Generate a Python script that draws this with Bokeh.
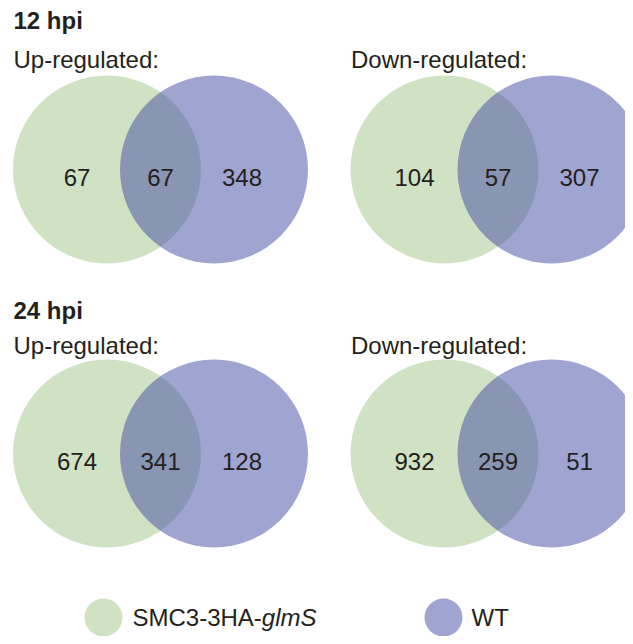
from bokeh.plotting import figure
from bokeh.models import Range1d
from bokeh.core.properties import value
from bokeh.embed import file_html
from bokeh.resources import INLINE

# ---- data ----
time_points = ["12 hpi", "24 hpi"]
directions = ["Up-regulated:", "Down-regulated:"]
# panel order: 12 hpi up, 12 hpi down, 24 hpi up, 24 hpi down
smc3_only = [67, 104, 674, 932]
shared = [67, 57, 341, 259]
wt_only = [348, 307, 128, 51]
series = ["SMC3-3HA-glmS", "WT"]
italic_part = "glmS"

# ---- style / layout ----
GREEN = "#cfe2c4"
BLUE = "#4249a3"
BLUE_ALPHA = 0.5
TXT = "#231f20"
FONT = value("Liberation Sans")
R = 94
LEFT0, COL_STEP, SEP = 106.5, 337.5, 107
ROW0, ROW_STEP = 177, 284

p = figure(width=625, height=636, output_backend="svg", toolbar_location=None,
           x_range=Range1d(0, 625), y_range=Range1d(644, 8),
           x_axis_type=None, y_axis_type=None, min_border=0)
p.outline_line_color = None
p.grid.visible = False
p.background_fill_color = "white"
p.border_fill_color = "white"

gx, bx, cy = [], [], []
for k in range(len(shared)):
    row, col = divmod(k, 2)
    g = LEFT0 + col * COL_STEP
    gx.append(g)
    bx.append(g + SEP)
    cy.append(ROW0 + row * ROW_STEP)

p.circle(x=gx, y=cy, radius=R, fill_color=GREEN, line_color=None)
p.circle(x=bx, y=cy, radius=R, fill_color=BLUE, fill_alpha=BLUE_ALPHA, line_color=None)

# counts
nx, ny, nt = [], [], []
for k in range(len(shared)):
    for xpos, v in ((gx[k] - 30, smc3_only[k]),
                    ((gx[k] + bx[k]) / 2, shared[k]),
                    (bx[k] + 28, wt_only[k])):
        nx.append(xpos); ny.append(cy[k] + 8); nt.append(str(v))
p.text(x=nx, y=ny, text=nt, text_font=FONT, text_font_size="24px",
       text_color=TXT, text_align="center", text_baseline="alphabetic")

# titles
tx, ty, tt = [], [], []
for r, t in enumerate(time_points):
    tx.append(13); ty.append(28 + r * 290); tt.append(t)
p.text(x=tx, y=ty, text=tt, text_font=FONT, text_font_size="24px",
       text_font_style="bold", text_color=TXT, text_baseline="alphabetic")

sx, sy, st = [], [], []
for r in range(len(time_points)):
    for c, d in enumerate(directions):
        sx.append(13 + c * COL_STEP); sy.append(67 + r * 286); st.append(d)
p.text(x=sx, y=sy, text=st, text_font=FONT, text_font_size="24px",
       text_color=TXT, text_baseline="alphabetic")

# legend
LY = 625
p.circle(x=[103], y=[LY], radius=19, fill_color=GREEN, line_color=None)
p.circle(x=[443], y=[LY], radius=19, fill_color=BLUE, fill_alpha=BLUE_ALPHA, line_color=None)
plain = series[0][: len(series[0]) - len(italic_part)]
p.text(x=[132], y=[LY], text=[plain], text_font=FONT, text_font_size="24px",
       text_color=TXT, text_baseline="middle")
plain_w = 24 * (0.667 + 0.833 + 0.722 + 0.556 + 0.333 + 0.556 + 0.722 + 0.667 + 0.333)
p.text(x=[132 + plain_w], y=[LY], text=[italic_part], text_font=FONT, text_font_size="24px",
       text_font_style="italic", text_color=TXT, text_baseline="middle")
p.text(x=[471], y=[LY], text=[series[1]], text_font=FONT, text_font_size="24px",
       text_color=TXT, text_baseline="middle")

open("out.html", "w").write(file_html(p, INLINE))
